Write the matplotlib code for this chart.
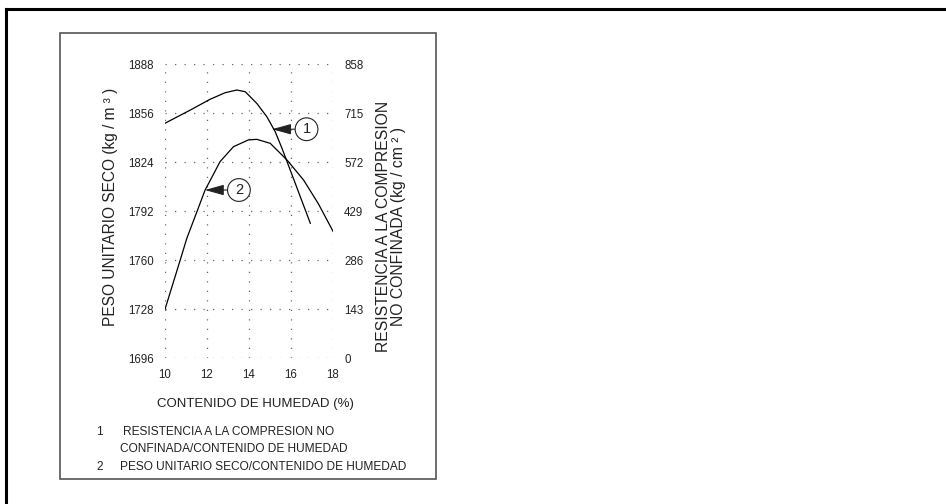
import matplotlib
matplotlib.use("Agg")
import matplotlib.pyplot as plt
from matplotlib.patches import Rectangle
from matplotlib.lines import Line2D

plt.rcParams['font.family'] = ['Liberation Sans', 'DejaVu Sans']

# curva 1: resistencia a la compresion no confinada (kg/cm2) vs humedad (%)
hum_res = [10.0, 11.19, 12.15, 12.86, 13.42, 13.82, 14.37, 14.85, 15.25, 15.57, 16.2, 16.92]
resistencia = [686, 724, 756, 775, 783, 778, 744, 705, 661, 613, 511, 394]

# curva 2: peso unitario seco (kg/m3) vs humedad (%)
hum_peso = [10.0, 10.72, 11.04, 11.5, 11.91, 12.3, 12.62, 13.26, 13.97, 14.37, 15.01, 15.81, 16.6, 17.3, 18.0]
peso = [1728, 1760, 1774.4, 1791, 1805.9, 1816, 1824.4, 1834.2, 1838.6, 1839.0, 1836.4, 1825.5, 1812.4, 1797, 1779]

x_ticks = [10, 12, 14, 16, 18]
y_left_ticks = [1696, 1728, 1760, 1792, 1824, 1856, 1888]
y_right_ticks = [0, 143, 286, 429, 572, 715, 858]

fig = plt.figure(figsize=(9.46, 5.04), dpi=100)
W, H = 946, 504

# marcos
fig.add_artist(Line2D([6 / W, 1], [1 - 9 / H, 1 - 9 / H], transform=fig.transFigure, color='black', lw=2.2))
fig.add_artist(Line2D([6 / W, 6 / W], [0, 1 - 9 / H], transform=fig.transFigure, color='black', lw=2.2))
fig.add_artist(Rectangle((60 / W, 1 - 479 / H), 376 / W, 446 / H, transform=fig.transFigure,
                         fill=False, ec='#555555', lw=1.2))

ax = fig.add_axes([165 / W, 1 - 358.3 / H, 168 / W, 294 / H])
ax2 = ax.twinx()

dots = dict(color='#666666', linestyle=(0, (1, 6.6)), linewidth=0.9)
for a in (ax, ax2):
    for s in a.spines.values():
        s.set_visible(False)
    a.tick_params(length=0, labelsize=8.3, colors='#222222')

ax.set_xlim(10, 18)
ax.set_ylim(1696, 1888)
ax.set_xticks(x_ticks)
ax.set_yticks(y_left_ticks)
ax.tick_params(axis='y', pad=8)
ax.tick_params(axis='x', pad=8)
ax.grid(True, **dots)

ax2.set_ylim(0, 858)
ax2.set_yticks(y_right_ticks)
ax2.tick_params(axis='y', pad=8)

ax.plot(hum_peso, peso, color='black', lw=0.9)
ax2.plot(hum_res, resistencia, color='black', lw=0.9)

ax.set_ylabel('PESO UNITARIO SECO (kg / m ³ )', fontsize=11.2, color='#222222')
ax.yaxis.set_label_coords(-0.282, 0.515)
ax2.set_ylabel('RESISTENCIA A LA COMPRESION\nNO CONFINADA (kg / cm ² )', fontsize=11.3,
               color='#222222', linespacing=1.0)
ax2.yaxis.set_label_coords(1.258, 0.447)
ax.set_xlabel('CONTENIDO DE HUMEDAD (%)', fontsize=9.5, color='#222222')
ax.xaxis.set_label_coords(0.54, -0.135)

circ = dict(boxstyle='circle,pad=0.3', fc='white', ec='#222222', lw=0.8)
arr = dict(arrowstyle='-|>,head_length=0.9,head_width=0.25', color='#222222', lw=0.8,
           mutation_scale=13, shrinkA=0, shrinkB=0)
ax.annotate('1', xy=(15.1, 1845.6), xytext=(16.74, 1845.6), fontsize=10.5, ha='center', va='center',
            bbox=circ, arrowprops=arr, color='#222222')
ax.annotate('2', xy=(11.9, 1805.9), xytext=(13.52, 1805.9), fontsize=10.5, ha='center', va='center',
            bbox=circ, arrowprops=arr, color='#222222')

legend_lines = [
    ('1', 'RESISTENCIA A LA COMPRESION NO', 432),
    ('', 'CONFINADA/CONTENIDO DE HUMEDAD', 449),
    ('2', 'PESO UNITARIO SECO/CONTENIDO DE HUMEDAD', 467),
]
for num, txt, yp in legend_lines:
    if num:
        fig.text(99.5 / W, 1 - yp / H, num, fontsize=8.6, ha='center', va='center', color='#222222')
    x0 = 123 if num == '1' else 120
    fig.text(x0 / W, 1 - yp / H, txt, fontsize=8.6, ha='left', va='center', color='#222222')

fig.savefig('out.png', dpi=100)
